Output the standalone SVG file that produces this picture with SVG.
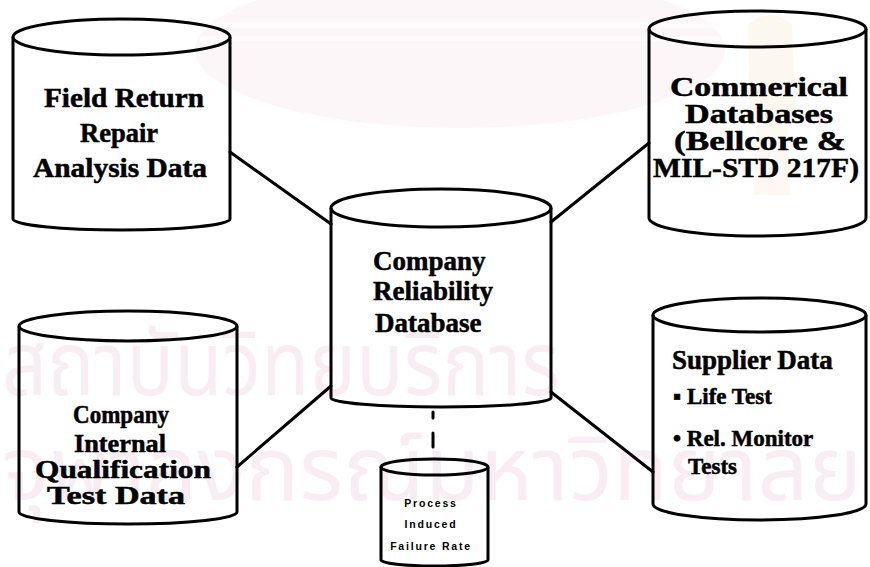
<svg xmlns="http://www.w3.org/2000/svg" width="870" height="567" viewBox="0 0 870 567">
  <style>
    .cyl { fill: none; stroke: #000000; stroke-width: 3; stroke-linejoin: round; }
    .lbl { font-family: "Liberation Serif", "Times New Roman", serif; font-weight: bold; font-size: 27px; fill: #000000; stroke: #000000; stroke-width: 0.5; }
    .lblc { text-anchor: middle; }
    .bl { font-size: 25px; }
    .sub { font-size: 23px; }
    .tiny { font-family: "Liberation Sans", Arial, sans-serif; font-weight: bold; font-size: 10.5px; letter-spacing: 1.8px; text-anchor: middle; fill: #000000; }
    .link { stroke: #000000; stroke-width: 3; fill: none; stroke-linecap: round; }
    .wm { font-family: "Noto Sans Thai", "Noto Sans", "DejaVu Sans", sans-serif; fill: #f9edf4; }
  </style>

  <rect width="870" height="567" fill="#ffffff"/>

  <!-- faint background seal and lettering -->
  <g id="watermark">
    <ellipse cx="460" cy="50" rx="265" ry="78" fill="#fdf6f9"/>
    <rect x="200" y="22" width="520" height="6" fill="#fffbfd"/>
    <rect x="200" y="36" width="520" height="5" fill="#fffbfd"/>
    <path d="M748 25 Q770 5 792 25 L796 115 Q772 140 750 115 Z" fill="#fcf8f0"/>
    <path d="M756 125 L788 125 L790 195 L754 195 Z" fill="#fdf9f2"/>
    <text class="wm" x="2" y="395" font-size="90" textLength="558" lengthAdjust="spacingAndGlyphs">สถาบันวิทยบริการ</text>
    <text class="wm" x="2" y="500" font-size="90" textLength="860" lengthAdjust="spacingAndGlyphs">จุฬาลงกรณ์มหาวิทยาลัย</text>
  </g>

  <!-- connectors -->
  <g id="connectors">
    <line class="link" x1="230" y1="152" x2="331" y2="224"/>
    <line class="link" x1="551" y1="222" x2="649" y2="143"/>
    <line class="link" x1="237" y1="467" x2="331" y2="386"/>
    <line class="link" x1="551" y1="392" x2="653" y2="472"/>
    <line class="link" x1="433" y1="412" x2="433" y2="418"/>
    <line class="link" x1="433" y1="433" x2="433" y2="447"/>
  </g>

  <g id="field-return">
    <path class="cyl" d="M13 37 V219 A108.5 11 0 0 0 230 219 V37"/>
    <ellipse class="cyl" cx="121.5" cy="37" rx="108.5" ry="18"/>
    <text class="lbl lblc" x="124" y="107" textLength="160" lengthAdjust="spacingAndGlyphs">Field Return</text>
    <text class="lbl lblc" x="119" y="142" textLength="78" lengthAdjust="spacingAndGlyphs">Repair</text>
    <text class="lbl lblc" x="120" y="177" textLength="174" lengthAdjust="spacingAndGlyphs">Analysis Data</text>
  </g>

  <g id="commercial-db">
    <path class="cyl" d="M649 29 V218 A108.5 18 0 0 0 866 218 V29"/>
    <ellipse class="cyl" cx="757.5" cy="29" rx="108.5" ry="18"/>
    <text class="lbl lblc" x="759" y="96" textLength="178" lengthAdjust="spacingAndGlyphs">Commerical</text>
    <text class="lbl lblc" x="759" y="123" textLength="148" lengthAdjust="spacingAndGlyphs">Databases</text>
    <text class="lbl lblc" x="760" y="150" textLength="172" lengthAdjust="spacingAndGlyphs">(Bellcore &amp;</text>
    <text class="lbl lblc" x="756" y="177" textLength="206" lengthAdjust="spacingAndGlyphs">MIL-STD 217F)</text>
  </g>

  <g id="company-db">
    <path class="cyl" d="M331 208 V398 A110 9 0 0 0 551 398 V208"/>
    <ellipse class="cyl" cx="441" cy="208" rx="110" ry="19"/>
    <text class="lbl" x="373" y="270">Company</text>
    <text class="lbl" x="373" y="300">Reliability</text>
    <text class="lbl" x="375" y="332">Database</text>
  </g>

  <g id="internal-qual">
    <path class="cyl" d="M19 326 V512 A109 12 0 0 0 237 512 V326"/>
    <ellipse class="cyl" cx="128" cy="326" rx="109" ry="15"/>
    <text class="lbl bl lblc" x="121" y="423" textLength="96" lengthAdjust="spacingAndGlyphs">Company</text>
    <text class="lbl bl lblc" x="120" y="452" textLength="92" lengthAdjust="spacingAndGlyphs">Internal</text>
    <text class="lbl bl lblc" x="123" y="478" textLength="176" lengthAdjust="spacingAndGlyphs">Qualification</text>
    <text class="lbl bl lblc" x="116" y="504" textLength="138" lengthAdjust="spacingAndGlyphs">Test Data</text>
  </g>

  <g id="supplier-data">
    <path class="cyl" d="M653 315 V504 A106.5 16 0 0 0 866 504 V315"/>
    <ellipse class="cyl" cx="759.5" cy="315" rx="106.5" ry="17"/>
    <text class="lbl" x="672" y="369">Supplier Data</text>
    <text class="lbl sub" x="673" y="404">▪ Life Test</text>
    <text class="lbl sub" x="673" y="446">• Rel. Monitor</text>
    <text class="lbl sub" x="688" y="474">Tests</text>
  </g>

  <g id="process-failure">
    <path class="cyl" d="M381 467 V560 A53.5 6 0 0 0 488 560 V467"/>
    <ellipse class="cyl" cx="434.5" cy="467" rx="53.5" ry="8"/>
    <text class="tiny" x="431" y="507">Process</text>
    <text class="tiny" x="431" y="528">Induced</text>
    <text class="tiny" x="431" y="550">Failure Rate</text>
  </g>
</svg>
